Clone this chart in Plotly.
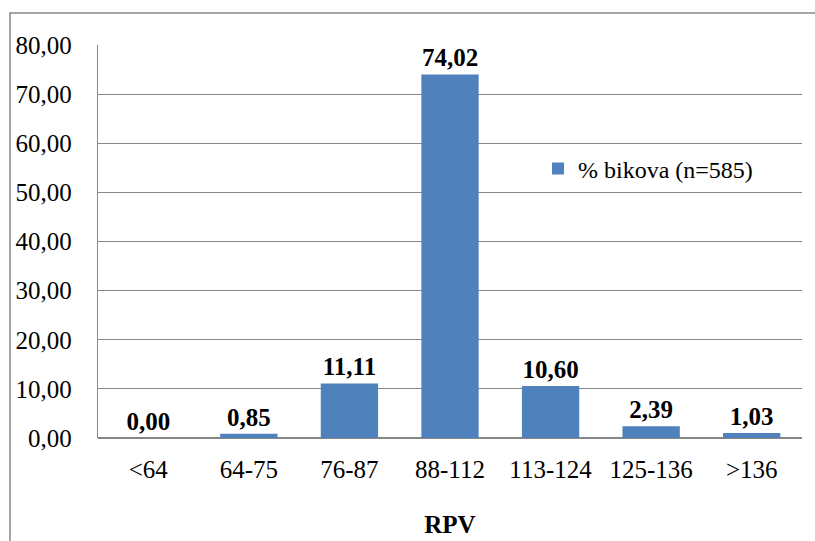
import plotly.graph_objects as go

categories = ["<64", "64-75", "76-87", "88-112", "113-124", "125-136", ">136"]
values = [0.00, 0.85, 11.11, 74.02, 10.60, 2.39, 1.03]
series_name = "% bikova (n=585)"
y_ticks = [0, 10, 20, 30, 40, 50, 60, 70, 80]

FONT = "Liberation Serif"
GRID = "#868686"

fig = go.Figure(go.Bar(
    x=categories,
    y=values,
    name=series_name,
    marker=dict(color="#4F81BD", line=dict(width=0)),
    texttemplate="<b>%{y:.2f}</b>",
    textposition="outside",
    textfont=dict(family=FONT, size=25, color="black"),
    cliponaxis=False,
))

fig.update_layout(
    width=815,
    height=541,
    margin=dict(l=98, r=13, t=45, b=103),
    paper_bgcolor="white",
    plot_bgcolor="white",
    separators=",.",
    bargap=0.43,
    font=dict(family=FONT, size=25, color="black"),
    showlegend=True,
    legend=dict(
        x=0.625, y=0.685, xanchor="left", yanchor="middle",
        font=dict(family=FONT, size=24, color="black"),
        bgcolor="rgba(0,0,0,0)",
        itemwidth=30,
    ),
    xaxis=dict(
        title=dict(text="<b>RPV</b>", font=dict(family=FONT, size=25), standoff=33),
        automargin=False,
        showgrid=False,
        showline=False,
        ticks="",
        ticklabelstandoff=14,
        tickfont=dict(family=FONT, size=25),
    ),
    yaxis=dict(
        range=[0, 80],
        automargin=False,
        tickvals=y_ticks,
        tickformat=".2f",
        showgrid=True,
        gridcolor=GRID,
        gridwidth=1.3,
        showline=True,
        linecolor=GRID,
        linewidth=1.3,
        zeroline=True,
        zerolinecolor=GRID,
        zerolinewidth=1.5,
        ticks="",
        ticklabelstandoff=20,
        tickfont=dict(family=FONT, size=25),
    ),
    shapes=[dict(
        type="rect", xref="paper", yref="paper",
        x0=-0.125, x1=1.2, y0=-0.6, y1=1.0814,
        line=dict(color=GRID, width=1.5),
        fillcolor="rgba(0,0,0,0)",
    )],
)

fig.write_html("out.html", config={"displayModeBar": False},
               post_script="document.body.style.margin='0';")
